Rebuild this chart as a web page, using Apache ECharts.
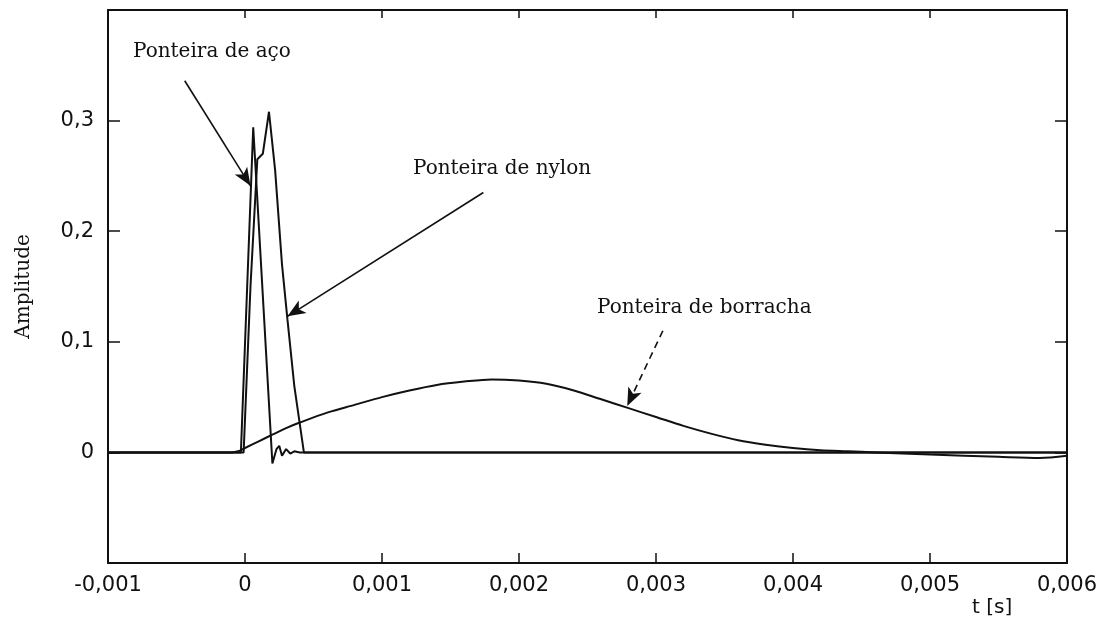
<!DOCTYPE html>
<html>
<head>
<meta charset="utf-8">
<script src="https://cdn.jsdelivr.net/npm/echarts@6/dist/echarts.min.js"></script>
<style>
  html, body { margin: 0; padding: 0; background: #fff; }
  #chart { width: 1110px; height: 629px; }
</style>
</head>
<body>
<div id="chart"></div>
<script>
// --------------------------------------------------------------
// Data
// --------------------------------------------------------------

const xTicks = [-0.001, 0, 0.001, 0.002, 0.003, 0.004, 0.005, 0.006];
const yTicks = [0, 0.1, 0.2, 0.3];

const steelT = [-0.001, -0.00003, 0.00006, 0.0002, 0.00023, 0.00025, 0.00027, 0.0003, 0.00033, 0.00036, 0.0004, 0.006];
const steelV = [0, 0, 0.294, -0.01, 0.003, 0.006, -0.003, 0.003, -0.001, 0.001, 0, 0];

const nylonT = [-0.001, -0.00001, 0.00004, 0.00009, 0.00013, 0.000175, 0.00022, 0.00027, 0.00031, 0.00036, 0.00043, 0.006];
const nylonV = [0, 0, 0.15, 0.265, 0.27, 0.308, 0.255, 0.17, 0.12, 0.06, 0, 0];

const rubberT = [-0.001, -0.0001, -0.00005, 0, 0.0001, 0.0002, 0.0003, 0.0004, 0.0006, 0.0008, 0.001, 0.0012,
  0.0014, 0.0016, 0.0018, 0.002, 0.0022, 0.0024, 0.0026, 0.0028, 0.003, 0.0032, 0.0034, 0.0036, 0.0038,
  0.004, 0.0042, 0.0044, 0.0046, 0.005, 0.0055, 0.0058, 0.006];
const rubberV = [0, 0, 0.001, 0.004, 0.010, 0.016, 0.022, 0.027, 0.036, 0.043, 0.050, 0.056,
  0.061, 0.064, 0.066, 0.065, 0.062, 0.056, 0.048, 0.040, 0.032, 0.024, 0.017, 0.011, 0.007,
  0.004, 0.002, 0.001, 0, -0.002, -0.004, -0.005, -0.003];

// arrows: [fromX, fromY, toX, toY] in data units
const steelArrow = [-0.00044, 0.336, 0.00004, 0.241];
const nylonArrow = [0.00174, 0.235, 0.00031, 0.123];
const rubberArrow = [0.00305, 0.110, 0.00279, 0.042];

// --------------------------------------------------------------
// Helpers
// --------------------------------------------------------------

const INK = "#111";
const SERIF = "'DejaVu Serif', 'Liberation Serif', serif";
const SANS = "'DejaVu Sans', sans-serif";

function pairs(ts, vs) {
  return ts.map((t, i) => [t, vs[i]]);
}

function comma(v, digits) {
  if (Math.abs(v) < 1e-12) return "0";
  return v.toFixed(digits).replace(".", ",");
}

function arrow(a, dashed) {
  return {
    silent: true,
    symbol: ["none", "arrow"],
    symbolSize: [11, 18],
    label: {show: false},
    lineStyle: {color: INK, width: 1.6, type: dashed ? [7, 5] : "solid"},
    data: [[{coord: [a[0], a[1]]}, {coord: [a[2], a[3]]}]],
  };
}

function curve(name, ts, vs, extra) {
  return Object.assign({
    name: name,
    type: "line",
    data: pairs(ts, vs),
    showSymbol: false,
    symbol: "none",
    smooth: false,
    lineStyle: {color: INK, width: 2},
    z: 3,
  }, extra || {});
}

// --------------------------------------------------------------
// Chart
// --------------------------------------------------------------

const chart = echarts.init(document.getElementById("chart"), null, {renderer: "canvas"});

const axisLine = {show: true, onZero: false, lineStyle: {color: INK, width: 2}};

const option = {
  animation: false,
  backgroundColor: "#fff",
  grid: {left: 108, right: 43, top: 10, bottom: 66},
  xAxis: [
    {
      type: "value", position: "bottom",
      min: -0.001, max: 0.006, interval: 0.001,
      axisLine: axisLine,
      axisTick: {show: true, inside: true, length: 10, lineStyle: {color: INK, width: 1.5}},
      axisLabel: {
        color: INK, fontFamily: SANS, fontSize: 21, margin: 12,
        formatter: (v) => comma(v, 3),
      },
      splitLine: {show: false},
    },
    {
      type: "value", position: "top",
      min: -0.001, max: 0.006, interval: 0.001,
      axisLine: axisLine,
      axisTick: {show: true, inside: true, length: 8, lineStyle: {color: INK, width: 1.5}},
      axisLabel: {show: false},
      splitLine: {show: false},
    },
  ],
  yAxis: [
    {
      type: "value", position: "left",
      min: -0.1, max: 0.4, interval: 0.1,
      name: "Amplitude",
      nameLocation: "middle",
      nameGap: 74,
      nameTextStyle: {color: INK, fontFamily: SERIF, fontSize: 20},
      axisLine: axisLine,
      axisTick: {show: true, inside: true, length: 12, lineStyle: {color: INK, width: 1.5}},
      axisLabel: {
        color: INK, fontFamily: SANS, fontSize: 21, margin: 14,
        formatter: (v) => {
          const hit = yTicks.some((t) => Math.abs(t - v) < 1e-9);
          return hit ? comma(v, 1) : "";
        },
      },
      splitLine: {show: false},
    },
    {
      type: "value", position: "right",
      min: -0.1, max: 0.4, interval: 0.1,
      axisLine: axisLine,
      axisTick: {show: true, inside: true, length: 12, lineStyle: {color: INK, width: 1.5}},
      axisLabel: {show: false},
      splitLine: {show: false},
    },
  ],
  series: [
    curve("Ponteira de borracha", rubberT, rubberV, {smooth: 0.3, markLine: arrow(rubberArrow, true)}),
    curve("Ponteira de nylon", nylonT, nylonV, {markLine: arrow(nylonArrow, false)}),
    curve("Ponteira de aço", steelT, steelV, {markLine: arrow(steelArrow, false)}),
  ],
  graphic: [
    {type: "text", left: 133, top: 42, style: {text: "Ponteira de aço", font: "20px " + SERIF, fill: INK}},
    {type: "text", left: 413, top: 159, style: {text: "Ponteira de nylon", font: "20px " + SERIF, fill: INK}},
    {type: "text", left: 597, top: 298, style: {text: "Ponteira de borracha", font: "20px " + SERIF, fill: INK}},
    {type: "text", left: 972, top: 598, style: {text: "t [s]", font: "20px " + SANS, fill: INK}},
  ],
};

chart.setOption(option);
</script>
</body>
</html>
